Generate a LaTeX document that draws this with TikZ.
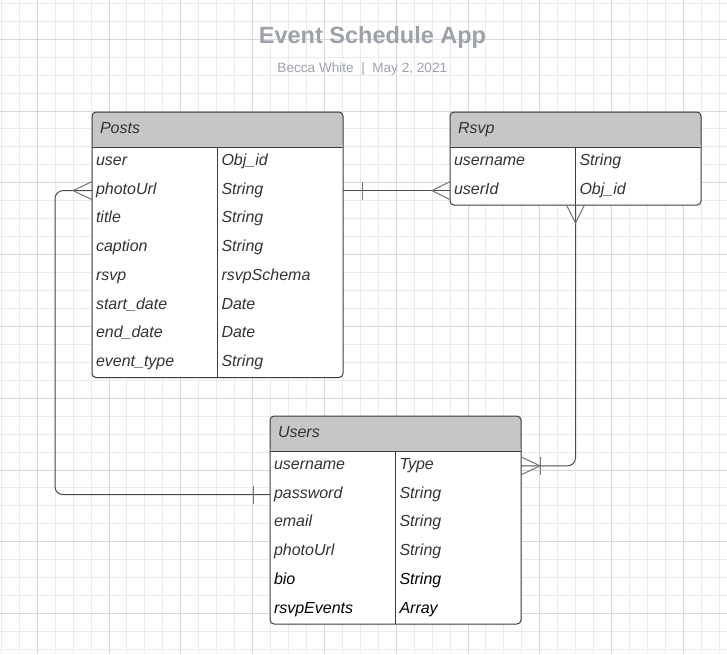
\documentclass[tikz,border=0pt]{standalone}
\usepackage{fontspec}
\setmainfont{Liberation Sans}
\usetikzlibrary{positioning}
\definecolor{headgray}{HTML}{C6C6C6}
\definecolor{framegray}{HTML}{3C3C3C}
\definecolor{linegray}{HTML}{4A4A4A}
\definecolor{footgray}{HTML}{757575}
\definecolor{textgray}{HTML}{333333}
\definecolor{titlegray}{HTML}{9DA2AA}
\definecolor{minorgray}{HTML}{EBEBEB}
\definecolor{majorgray}{HTML}{D8D8D8}
\tikzstyle{minorline} = [draw=minorgray, line width=1pt]
\tikzstyle{majorline} = [draw=majorgray, line width=1pt]
\tikzstyle{table} = [draw=framegray, line width=1pt, rounded corners=4pt, fill=white, minimum width=251pt, inner sep=0pt, outer sep=0pt, anchor=north west, path picture={\fill[headgray] (path picture bounding box.north west) rectangle ([yshift=-35.5pt]path picture bounding box.north east);}]
\tikzstyle{headtext} = [text=textgray, font=\fontsize{16}{19}\selectfont\itshape, text width=235pt, align=left, minimum height=35.5pt, inner xsep=8pt, inner ysep=0pt, outer sep=0pt, text height=11pt, text depth=4pt]
\tikzstyle{field} = [text=textgray, font=\fontsize{16}{19}\selectfont\itshape, text width=117.5pt, align=left, minimum height=28.75pt, inner xsep=4pt, inner ysep=0pt, outer sep=0pt, text height=11pt, text depth=4pt]
\tikzstyle{fieldx} = [field, text=black]
\tikzstyle{frame} = [draw=framegray, line width=1pt]
\tikzstyle{rel} = [draw=linegray, line width=1pt]
\tikzstyle{foot} = [draw=footgray, line width=1pt]

\begin{document}
\begin{tikzpicture}[x=1pt, y=-1pt, node distance=0pt]
	\fill[white] (0,0) rectangle (727,654);
	\useasboundingbox (0,0) rectangle (727,654);
	% grid
	\foreach \i in {0,...,40} \draw[minorline] ({1.3+17.95*\i},0) -- ({1.3+17.95*\i},654);
	\foreach \j in {0,...,36} \draw[minorline] (0,{3.3+17.95*\j}) -- (727,{3.3+17.95*\j});
	\foreach \i in {0,...,9} \draw[majorline] ({37.3+71.8*\i},0) -- ({37.3+71.8*\i},654);
	\foreach \j in {0,...,8} \draw[majorline] (0,{39.3+71.8*\j}) -- (727,{39.3+71.8*\j});
	
	\node (title) [anchor=base, text=titlegray, font=\fontsize{23.5}{28}\selectfont\bfseries] at (372.5,43) {Event Schedule App};
	\node (byline) [anchor=base, text=titlegray, font=\fontsize{13.6}{16}\selectfont] at (362.3,72) {Becca White\hspace{0.55em}|\hspace{0.55em}May 2, 2021};
	
	% Posts
	\node (posts) [table, minimum height=265.5pt] at (92,112) {};
	\node (postsHead) [headtext, below right=of posts.north west] {Posts};
	\node (pUser) [field, below right=of postsHead.south west] {user};
	\node (pPhoto) [field, below=of pUser] {photoUrl};
	\node (pTitle) [field, below=of pPhoto] {title};
	\node (pCaption) [field, below=of pTitle] {caption};
	\node (pRsvp) [field, below=of pCaption] {rsvp};
	\node (pStart) [field, below=of pRsvp] {start\_date};
	\node (pEnd) [field, below=of pStart] {end\_date};
	\node (pEvent) [field, below=of pEnd] {event\_type};
	\node (pUserT) [field, right=of pUser] {Obj\_id};
	\node (pPhotoT) [field, right=of pPhoto] {String};
	\node (pTitleT) [field, right=of pTitle] {String};
	\node (pCaptionT) [field, right=of pCaption] {String};
	\node (pRsvpT) [field, right=of pRsvp] {rsvpSchema};
	\node (pStartT) [field, right=of pStart] {Date};
	\node (pEndT) [field, right=of pEnd] {Date};
	\node (pEventT) [field, right=of pEvent] {String};
	\draw[frame] (postsHead.south west) -- (postsHead.south east);
	\draw[frame] (pUserT.north west) -- (pEventT.south west);
	
	% Rsvp
	\node (rsvp) [table, minimum height=93pt, right=107pt of posts.north east, anchor=north west] {};
	\node (rsvpHead) [headtext, below right=of rsvp.north west] {Rsvp};
	\node (rName) [field, below right=of rsvpHead.south west] {username};
	\node (rUid) [field, below=of rName] {userId};
	\node (rNameT) [field, right=of rName] {String};
	\node (rUidT) [field, right=of rUid] {Obj\_id};
	\draw[frame] (rsvpHead.south west) -- (rsvpHead.south east);
	\draw[frame] (rNameT.north west) -- (rUidT.south west);
	
	% Users
	\node (users) [table, minimum height=208pt] at (270,416) {};
	\node (usersHead) [headtext, below right=of users.north west] {Users};
	\node (uName) [field, below right=of usersHead.south west] {username};
	\node (uPass) [field, below=of uName] {password};
	\node (uEmail) [field, below=of uPass] {email};
	\node (uPhoto) [field, below=of uEmail] {photoUrl};
	\node (uBio) [fieldx, below=of uPhoto] {bio};
	\node (uEvents) [fieldx, below=of uBio] {rsvpEvents};
	\node (uNameT) [field, right=of uName] {Type};
	\node (uPassT) [field, right=of uPass] {String};
	\node (uEmailT) [field, right=of uEmail] {String};
	\node (uPhotoT) [field, right=of uPhoto] {String};
	\node (uBioT) [fieldx, right=of uBio] {String};
	\node (uEventsT) [fieldx, right=of uEvents] {Array};
	\draw[frame] (usersHead.south west) -- (usersHead.south east);
	\draw[frame] (uNameT.north west) -- (uEventsT.south west);
	
	% relations
	\draw[rel, rounded corners=8pt] (pPhoto.west) -- ++(-37pt,0) |- (uPass.west);
	\draw[rel] (pPhotoT.east) -- (rUid.west);
	\draw[rel, rounded corners=8pt] (rUidT.south west) |- (uNameT.east);
	
	\draw[foot] ([yshift=9pt]pPhoto.west) -- ([xshift=-19pt]pPhoto.west) -- ([yshift=-9pt]pPhoto.west);
	\draw[foot] ([xshift=-17pt,yshift=9pt]uPass.west) -- ([xshift=-17pt,yshift=-9pt]uPass.west);
	\draw[foot] ([xshift=19pt,yshift=9pt]pPhotoT.east) -- ([xshift=19pt,yshift=-9pt]pPhotoT.east);
	\draw[foot] ([yshift=9pt]rUid.west) -- ([xshift=-18pt]rUid.west) -- ([yshift=-9pt]rUid.west);
	\draw[foot] ([xshift=-9pt]rUidT.south west) -- ([yshift=-18pt]rUidT.south west) -- ([xshift=9pt]rUidT.south west);
	\draw[foot] ([yshift=9pt]uNameT.east) -- ([xshift=19pt]uNameT.east) -- ([yshift=-9pt]uNameT.east);
	\draw[foot] ([xshift=19pt,yshift=9pt]uNameT.east) -- ([xshift=19pt,yshift=-9pt]uNameT.east);
\end{tikzpicture}
\end{document}
